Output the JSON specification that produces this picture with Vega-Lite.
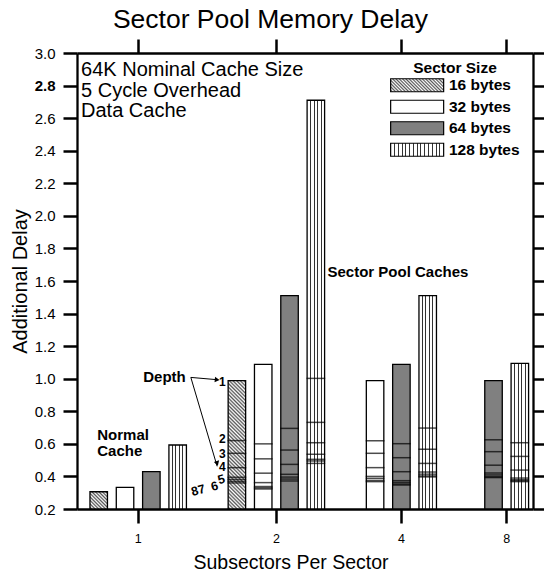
{
  "$schema": "https://vega.github.io/schema/vega-lite/v6.json",
  "width": 456,
  "height": 456,
  "autosize": {"type": "none"},
  "padding": {"left": 77, "top": 53, "right": 11, "bottom": 64},
  "title": {"text": "Sector Pool Memory Delay", "fontSize": 26.5, "fontWeight": "normal", "color": "black", "anchor": "middle", "frame": "group", "dx": -34.5, "dy": 29, "offset": 12, "baseline": "alphabetic"},
  "config": {"font": "Liberation Sans", "view": {"stroke": null}, "axis": {"grid": false, "labelColor": "black", "tickColor": "black", "domainColor": "black", "titleColor": "black"}},
  "datasets": {
    "bars": [
      {"bar": "1|16", "size": 16, "depth": 1, "delay": 0.306},
      {"bar": "1|32", "size": 32, "depth": 1, "delay": 0.333},
      {"bar": "1|64", "size": 64, "depth": 1, "delay": 0.429},
      {"bar": "1|128", "size": 128, "depth": 1, "delay": 0.593},
      {"bar": "2|16", "size": 16, "depth": 1, "delay": 0.988},
      {"bar": "2|16", "size": 16, "depth": 2, "delay": 0.62},
      {"bar": "2|16", "size": 16, "depth": 3, "delay": 0.542},
      {"bar": "2|16", "size": 16, "depth": 4, "delay": 0.454},
      {"bar": "2|16", "size": 16, "depth": 5, "delay": 0.395},
      {"bar": "2|16", "size": 16, "depth": 6, "delay": 0.382},
      {"bar": "2|16", "size": 16, "depth": 7, "delay": 0.37},
      {"bar": "2|16", "size": 16, "depth": 8, "delay": 0.36},
      {"bar": "2|32", "size": 32, "depth": 1, "delay": 1.088},
      {"bar": "2|32", "size": 32, "depth": 2, "delay": 0.6},
      {"bar": "2|32", "size": 32, "depth": 3, "delay": 0.508},
      {"bar": "2|32", "size": 32, "depth": 4, "delay": 0.42},
      {"bar": "2|32", "size": 32, "depth": 5, "delay": 0.362},
      {"bar": "2|32", "size": 32, "depth": 6, "delay": 0.338},
      {"bar": "2|32", "size": 32, "depth": 7, "delay": 0.33},
      {"bar": "2|32", "size": 32, "depth": 8, "delay": 0.323},
      {"bar": "2|64", "size": 64, "depth": 1, "delay": 1.51},
      {"bar": "2|64", "size": 64, "depth": 2, "delay": 0.695},
      {"bar": "2|64", "size": 64, "depth": 3, "delay": 0.562},
      {"bar": "2|64", "size": 64, "depth": 4, "delay": 0.474},
      {"bar": "2|64", "size": 64, "depth": 5, "delay": 0.413},
      {"bar": "2|64", "size": 64, "depth": 6, "delay": 0.396},
      {"bar": "2|64", "size": 64, "depth": 7, "delay": 0.384},
      {"bar": "2|64", "size": 64, "depth": 8, "delay": 0.372},
      {"bar": "2|128", "size": 128, "depth": 1, "delay": 2.71},
      {"bar": "2|128", "size": 128, "depth": 2, "delay": 1.002},
      {"bar": "2|128", "size": 128, "depth": 3, "delay": 0.732},
      {"bar": "2|128", "size": 128, "depth": 4, "delay": 0.607},
      {"bar": "2|128", "size": 128, "depth": 5, "delay": 0.536},
      {"bar": "2|128", "size": 128, "depth": 6, "delay": 0.505},
      {"bar": "2|128", "size": 128, "depth": 7, "delay": 0.495},
      {"bar": "2|128", "size": 128, "depth": 8, "delay": 0.48},
      {"bar": "4|32", "size": 32, "depth": 1, "delay": 0.988},
      {"bar": "4|32", "size": 32, "depth": 2, "delay": 0.619},
      {"bar": "4|32", "size": 32, "depth": 3, "delay": 0.542},
      {"bar": "4|32", "size": 32, "depth": 4, "delay": 0.454},
      {"bar": "4|32", "size": 32, "depth": 5, "delay": 0.4},
      {"bar": "4|32", "size": 32, "depth": 6, "delay": 0.388},
      {"bar": "4|32", "size": 32, "depth": 7, "delay": 0.375},
      {"bar": "4|32", "size": 32, "depth": 8, "delay": 0.368},
      {"bar": "4|64", "size": 64, "depth": 1, "delay": 1.088},
      {"bar": "4|64", "size": 64, "depth": 2, "delay": 0.601},
      {"bar": "4|64", "size": 64, "depth": 3, "delay": 0.515},
      {"bar": "4|64", "size": 64, "depth": 4, "delay": 0.429},
      {"bar": "4|64", "size": 64, "depth": 5, "delay": 0.374},
      {"bar": "4|64", "size": 64, "depth": 6, "delay": 0.363},
      {"bar": "4|64", "size": 64, "depth": 7, "delay": 0.353},
      {"bar": "4|64", "size": 64, "depth": 8, "delay": 0.347},
      {"bar": "4|128", "size": 128, "depth": 1, "delay": 1.51},
      {"bar": "4|128", "size": 128, "depth": 2, "delay": 0.697},
      {"bar": "4|128", "size": 128, "depth": 3, "delay": 0.567},
      {"bar": "4|128", "size": 128, "depth": 4, "delay": 0.48},
      {"bar": "4|128", "size": 128, "depth": 5, "delay": 0.427},
      {"bar": "4|128", "size": 128, "depth": 6, "delay": 0.414},
      {"bar": "4|128", "size": 128, "depth": 7, "delay": 0.403},
      {"bar": "4|128", "size": 128, "depth": 8, "delay": 0.397},
      {"bar": "8|64", "size": 64, "depth": 1, "delay": 0.988},
      {"bar": "8|64", "size": 64, "depth": 2, "delay": 0.625},
      {"bar": "8|64", "size": 64, "depth": 3, "delay": 0.552},
      {"bar": "8|64", "size": 64, "depth": 4, "delay": 0.469},
      {"bar": "8|64", "size": 64, "depth": 5, "delay": 0.421},
      {"bar": "8|64", "size": 64, "depth": 6, "delay": 0.409},
      {"bar": "8|64", "size": 64, "depth": 7, "delay": 0.398},
      {"bar": "8|64", "size": 64, "depth": 8, "delay": 0.393},
      {"bar": "8|128", "size": 128, "depth": 1, "delay": 1.094},
      {"bar": "8|128", "size": 128, "depth": 2, "delay": 0.607},
      {"bar": "8|128", "size": 128, "depth": 3, "delay": 0.523},
      {"bar": "8|128", "size": 128, "depth": 4, "delay": 0.439},
      {"bar": "8|128", "size": 128, "depth": 5, "delay": 0.39},
      {"bar": "8|128", "size": 128, "depth": 6, "delay": 0.38},
      {"bar": "8|128", "size": 128, "depth": 7, "delay": 0.374},
      {"bar": "8|128", "size": 128, "depth": 8, "delay": 0.368}
    ]
  },
  "layer": [
    {
      "data": {"name": "bars"},
      "transform": [{"filter": "datum.depth == 1"}],
      "mark": {"type": "bar", "width": 17.5, "stroke": "black", "strokeWidth": 1.3},
      "encoding": {
        "x": {
          "field": "bar", "type": "nominal",
          "scale": {"type": "band", "paddingInner": 0, "paddingOuter": 0.65, "align": 0.615,
            "domain": ["p0","p1","1|16","p3","p4","p5","1|32","p7","g1","p9","1|64","p11","p12","p13","1|128","p15","p16","p17","p18","p19","p20","p21","p22","2|16","p24","p25","p26","2|32","p28","g2","p30","2|64","p32","p33","p34","2|128","p36","p37","p38","p39","p40","p41","p42","p43","4|32","p45","p46","p47","4|64","p49","p50","p51","4|128","p53","p54","p55","p56","p57","p58","p59","p60","p61","8|64","p63","g8","p65","8|128","p67"]},
          "axis": {"orient": "bottom", "values": ["g1", "g2", "4|64", "g8"], "bandPosition": 0.5,
            "labelExpr": "datum.value == 'g1' ? '1' : datum.value == 'g2' ? '2' : datum.value == '4|64' ? '4' : '8'",
            "labelAngle": 0, "labelFontSize": 12.5, "labelPadding": 9, "tickSize": 14, "tickWidth": 2.5, "domainWidth": 2.3,
            "title": "Subsectors Per Sector", "titleFontSize": 19.5, "titleFontWeight": "normal", "titleX": 213.5, "titleY": 59.5, "titleBaseline": "alphabetic", "titleAlign": "center"}
        },
        "y": {
          "field": "delay", "type": "quantitative",
          "scale": {"domain": [0.2, 3.0], "nice": false, "zero": false},
          "axis": {"orient": "left", "values": [0.2,0.4,0.6,0.8,1.0,1.2,1.4,1.6,1.8,2.0,2.2,2.4,2.6,2.8,3.0], "format": ".1f",
            "labelFontSize": 15, "labelPadding": 8, "labelFontWeight": {"expr": "datum.value == 2.8 ? 'bold' : 'normal'"},
            "tickSize": 14, "tickWidth": 2.5, "domainWidth": 2.3,
            "title": "Additional Delay", "titleFontSize": 20, "titleFontWeight": "normal", "titlePadding": 4}
        },
        "y2": {"datum": 0.2},
        "fill": {
          "field": "size", "type": "nominal",
          "scale": {"domain": [16, 32, 64, 128], "range": [
            {"expr": "{gradient:'linear',x1:0,y1:1,x2:1.175,y2:0.712,stops:[{offset:0,color:'#fff'},{offset:0.025,color:'#555'},{offset:0.05,color:'#fff'},{offset:0.075,color:'#555'},{offset:0.1,color:'#fff'},{offset:0.125,color:'#555'},{offset:0.15,color:'#fff'},{offset:0.175,color:'#555'},{offset:0.2,color:'#fff'},{offset:0.225,color:'#555'},{offset:0.25,color:'#fff'},{offset:0.275,color:'#555'},{offset:0.3,color:'#fff'},{offset:0.325,color:'#555'},{offset:0.35,color:'#fff'},{offset:0.375,color:'#555'},{offset:0.4,color:'#fff'},{offset:0.425,color:'#555'},{offset:0.45,color:'#fff'},{offset:0.475,color:'#555'},{offset:0.5,color:'#fff'},{offset:0.525,color:'#555'},{offset:0.55,color:'#fff'},{offset:0.575,color:'#555'},{offset:0.6,color:'#fff'},{offset:0.625,color:'#555'},{offset:0.65,color:'#fff'},{offset:0.675,color:'#555'},{offset:0.7,color:'#fff'},{offset:0.725,color:'#555'},{offset:0.75,color:'#fff'},{offset:0.775,color:'#555'},{offset:0.8,color:'#fff'},{offset:0.825,color:'#555'},{offset:0.85,color:'#fff'},{offset:0.875,color:'#555'},{offset:0.9,color:'#fff'},{offset:0.925,color:'#555'},{offset:0.95,color:'#fff'},{offset:0.975,color:'#555'},{offset:1,color:'#fff'}]}"},
            "#ffffff",
            "#808080",
            {"expr": "{gradient:'linear',x1:0,y1:0,x2:1,y2:0,stops:[{offset:0,color:'#fff'},{offset:0.0619,color:'#fff'},{offset:0.0619,color:'#333'},{offset:0.0809,color:'#333'},{offset:0.0809,color:'#fff'},{offset:0.1334,color:'#fff'},{offset:0.1334,color:'#333'},{offset:0.1524,color:'#333'},{offset:0.1524,color:'#fff'},{offset:0.2048,color:'#fff'},{offset:0.2048,color:'#333'},{offset:0.2238,color:'#333'},{offset:0.2238,color:'#fff'},{offset:0.2762,color:'#fff'},{offset:0.2762,color:'#333'},{offset:0.2952,color:'#333'},{offset:0.2952,color:'#fff'},{offset:0.3476,color:'#fff'},{offset:0.3476,color:'#333'},{offset:0.3666,color:'#333'},{offset:0.3666,color:'#fff'},{offset:0.4191,color:'#fff'},{offset:0.4191,color:'#333'},{offset:0.4381,color:'#333'},{offset:0.4381,color:'#fff'},{offset:0.4905,color:'#fff'},{offset:0.4905,color:'#333'},{offset:0.5095,color:'#333'},{offset:0.5095,color:'#fff'},{offset:0.5619,color:'#fff'},{offset:0.5619,color:'#333'},{offset:0.5809,color:'#333'},{offset:0.5809,color:'#fff'},{offset:0.6334,color:'#fff'},{offset:0.6334,color:'#333'},{offset:0.6524,color:'#333'},{offset:0.6524,color:'#fff'},{offset:0.7048,color:'#fff'},{offset:0.7048,color:'#333'},{offset:0.7238,color:'#333'},{offset:0.7238,color:'#fff'},{offset:0.7762,color:'#fff'},{offset:0.7762,color:'#333'},{offset:0.7952,color:'#333'},{offset:0.7952,color:'#fff'},{offset:0.8476,color:'#fff'},{offset:0.8476,color:'#333'},{offset:0.8666,color:'#333'},{offset:0.8666,color:'#fff'},{offset:0.9191,color:'#fff'},{offset:0.9191,color:'#333'},{offset:0.9381,color:'#333'},{offset:0.9381,color:'#fff'},{offset:1,color:'#fff'}]}"}
          ]},
          "condition": [
            {"test": "datum.bar == '2|16'", "value": {"gradient": "linear", "x1": 0, "y1": 1, "x2": 0.1522, "y2": -0.1157, "stops": [
              {"offset": 0, "color": "#fff"},{"offset": 0.0125, "color": "#555"},{"offset": 0.025, "color": "#fff"},{"offset": 0.0375, "color": "#555"},
              {"offset": 0.05, "color": "#fff"},{"offset": 0.0625, "color": "#555"},{"offset": 0.075, "color": "#fff"},{"offset": 0.0875, "color": "#555"},
              {"offset": 0.1, "color": "#fff"},{"offset": 0.1125, "color": "#555"},{"offset": 0.125, "color": "#fff"},{"offset": 0.1375, "color": "#555"},
              {"offset": 0.15, "color": "#fff"},{"offset": 0.1625, "color": "#555"},{"offset": 0.175, "color": "#fff"},{"offset": 0.1875, "color": "#555"},
              {"offset": 0.2, "color": "#fff"},{"offset": 0.2125, "color": "#555"},{"offset": 0.225, "color": "#fff"},{"offset": 0.2375, "color": "#555"},
              {"offset": 0.25, "color": "#fff"},{"offset": 0.2625, "color": "#555"},{"offset": 0.275, "color": "#fff"},{"offset": 0.2875, "color": "#555"},
              {"offset": 0.3, "color": "#fff"},{"offset": 0.3125, "color": "#555"},{"offset": 0.325, "color": "#fff"},{"offset": 0.3375, "color": "#555"},
              {"offset": 0.35, "color": "#fff"},{"offset": 0.3625, "color": "#555"},{"offset": 0.375, "color": "#fff"},{"offset": 0.3875, "color": "#555"},
              {"offset": 0.4, "color": "#fff"},{"offset": 0.4125, "color": "#555"},{"offset": 0.425, "color": "#fff"},{"offset": 0.4375, "color": "#555"},
              {"offset": 0.45, "color": "#fff"},{"offset": 0.4625, "color": "#555"},{"offset": 0.475, "color": "#fff"},{"offset": 0.4875, "color": "#555"},
              {"offset": 0.5, "color": "#fff"},{"offset": 0.5125, "color": "#555"},{"offset": 0.525, "color": "#fff"},{"offset": 0.5375, "color": "#555"},
              {"offset": 0.55, "color": "#fff"},{"offset": 0.5625, "color": "#555"},{"offset": 0.575, "color": "#fff"},{"offset": 0.5875, "color": "#555"},
              {"offset": 0.6, "color": "#fff"},{"offset": 0.6125, "color": "#555"},{"offset": 0.625, "color": "#fff"},{"offset": 0.6375, "color": "#555"},
              {"offset": 0.65, "color": "#fff"},{"offset": 0.6625, "color": "#555"},{"offset": 0.675, "color": "#fff"},{"offset": 0.6875, "color": "#555"},
              {"offset": 0.7, "color": "#fff"},{"offset": 0.7125, "color": "#555"},{"offset": 0.725, "color": "#fff"},{"offset": 0.7375, "color": "#555"},
              {"offset": 0.75, "color": "#fff"},{"offset": 0.7625, "color": "#555"},{"offset": 0.775, "color": "#fff"},{"offset": 0.7875, "color": "#555"},
              {"offset": 0.8, "color": "#fff"},{"offset": 0.8125, "color": "#555"},{"offset": 0.825, "color": "#fff"},{"offset": 0.8375, "color": "#555"},
              {"offset": 0.85, "color": "#fff"},{"offset": 0.8625, "color": "#555"},{"offset": 0.875, "color": "#fff"},{"offset": 0.8875, "color": "#555"},
              {"offset": 0.9, "color": "#fff"},{"offset": 0.9125, "color": "#555"},{"offset": 0.925, "color": "#fff"},{"offset": 0.9375, "color": "#555"},
              {"offset": 0.95, "color": "#fff"},{"offset": 0.9625, "color": "#555"},{"offset": 0.975, "color": "#fff"},{"offset": 0.9875, "color": "#555"},
              {"offset": 1, "color": "#fff"}]}},
            {"test": "datum.bar == '1|16'", "value": {"gradient": "linear", "x1": 0, "y1": 1, "x2": 1.007, "y2": 0.007, "stops": [
              {"offset": 0, "color": "#fff"},{"offset": 0.05, "color": "#555"},{"offset": 0.1, "color": "#fff"},{"offset": 0.15, "color": "#555"},
              {"offset": 0.2, "color": "#fff"},{"offset": 0.25, "color": "#555"},{"offset": 0.3, "color": "#fff"},{"offset": 0.35, "color": "#555"},
              {"offset": 0.4, "color": "#fff"},{"offset": 0.45, "color": "#555"},{"offset": 0.5, "color": "#fff"},{"offset": 0.55, "color": "#555"},
              {"offset": 0.6, "color": "#fff"},{"offset": 0.65, "color": "#555"},{"offset": 0.7, "color": "#fff"},{"offset": 0.75, "color": "#555"},
              {"offset": 0.8, "color": "#fff"},{"offset": 0.85, "color": "#555"},{"offset": 0.9, "color": "#fff"},{"offset": 0.95, "color": "#555"},
              {"offset": 1, "color": "#fff"}]}},
            {"test": "datum.size == 128", "value": {"gradient": "linear", "x1": 0, "y1": 0, "x2": 1, "y2": 0, "stops": [
              {"offset": 0, "color": "#fff"},{"offset": 0.1714, "color": "#fff"},{"offset": 0.1714, "color": "#333"},{"offset": 0.2286, "color": "#333"},{"offset": 0.2286, "color": "#fff"},
              {"offset": 0.3714, "color": "#fff"},{"offset": 0.3714, "color": "#333"},{"offset": 0.4286, "color": "#333"},{"offset": 0.4286, "color": "#fff"},
              {"offset": 0.5714, "color": "#fff"},{"offset": 0.5714, "color": "#333"},{"offset": 0.6286, "color": "#333"},{"offset": 0.6286, "color": "#fff"},
              {"offset": 0.7714, "color": "#fff"},{"offset": 0.7714, "color": "#333"},{"offset": 0.8286, "color": "#333"},{"offset": 0.8286, "color": "#fff"},
              {"offset": 1, "color": "#fff"}]}}
          ],
          "legend": {
            "orient": "none", "legendX": 313, "legendY": 8, "padding": 0,
            "title": "Sector Size", "titleFontSize": 15.5, "titleFontWeight": "bold", "titleColor": "black", "titleAnchor": "middle", "titlePadding": 1,
            "labelFontSize": 15.5, "labelFontWeight": "bold", "labelColor": "black", "labelOffset": 24, "labelExpr": "datum.label + ' bytes'",
            "symbolType": "M-4.077,-1L4.077,-1L4.077,1L-4.077,1Z", "symbolSize": 169, "symbolOffset": 19.4,
            "symbolStrokeColor": "black", "symbolStrokeWidth": 1.2, "rowPadding": 2.5
          }
        }
      }
    },
    {
      "data": {"name": "bars"},
      "transform": [{"filter": "datum.depth > 1"}],
      "mark": {"type": "tick", "orient": "horizontal", "size": 18.7, "thickness": 1.5, "color": "black"},
      "encoding": {
        "x": {"field": "bar", "type": "nominal",
          "axis": {"orient": "top", "values": ["g1", "g2", "4|64", "g8"], "bandPosition": 0.5, "labels": false, "tickSize": 14, "tickWidth": 2.5, "domainWidth": 2.3, "title": null}},
        "y": {"field": "delay", "type": "quantitative",
          "axis": {"orient": "right", "values": [0.2,0.4,0.6,0.8,1.0,1.2,1.4,1.6,1.8,2.0,2.2,2.4,2.6,2.8,3.0], "labels": false, "tickSize": 12, "tickWidth": 2.5, "domainWidth": 2.3, "title": null}}
      }
    },
    {
      "data": {"values": [
        {"t": "64K Nominal Cache Size", "x": "p0", "y": 2.857},
        {"t": "5 Cycle Overhead", "x": "p0", "y": 2.732},
        {"t": "Data Cache", "x": "p0", "y": 2.607}
      ]},
      "mark": {"type": "text", "align": "left", "baseline": "alphabetic", "fontSize": 20, "dx": -4.5, "color": "black"},
      "encoding": {
        "x": {"field": "x", "type": "nominal", "axis": null},
        "y": {"field": "y", "type": "quantitative", "axis": null},
        "text": {"field": "t"}
      }
    },
    {
      "data": {"values": [
        {"t": "Normal", "x": "1|16", "y": 0.621},
        {"t": "Cache", "x": "1|16", "y": 0.523},
        {"t": "Sector Pool Caches", "x": "p37", "y": 1.626},
        {"t": "Depth", "x": "p9", "y": 0.979}
      ]},
      "mark": {"type": "text", "align": "left", "baseline": "alphabetic", "fontSize": 15, "fontWeight": "bold", "dx": -1.5, "color": "black"},
      "encoding": {
        "x": {"field": "x", "type": "nominal", "axis": null},
        "y": {"field": "y", "type": "quantitative", "axis": null},
        "text": {"field": "t"}
      }
    },
    {
      "data": {"values": [
        {"t": "1", "x": "p21", "y": 0.957},
        {"t": "2", "x": "p21", "y": 0.605},
        {"t": "3", "x": "p21", "y": 0.513},
        {"t": "4", "x": "p21", "y": 0.431}
      ]},
      "mark": {"type": "text", "align": "center", "baseline": "alphabetic", "fontSize": 12, "fontWeight": "bold", "dx": -1.5, "color": "black"},
      "encoding": {
        "x": {"field": "x", "type": "nominal", "axis": null},
        "y": {"field": "y", "type": "quantitative", "axis": null},
        "text": {"field": "t"}
      }
    },
    {
      "data": {"values": [
        {"t": "5", "x": "p21", "y": 0.36},
        {"t": "6", "x": "p20", "y": 0.319},
        {"t": "7", "x": "p18", "y": 0.298},
        {"t": "8", "x": "p17", "y": 0.288}
      ]},
      "mark": {"type": "text", "align": "center", "baseline": "alphabetic", "fontSize": 12.5, "fontWeight": "bold", "angle": 345, "dx": -1.5, "color": "black"},
      "encoding": {
        "x": {"field": "x", "type": "nominal", "axis": null},
        "y": {"field": "y", "type": "quantitative", "axis": null},
        "text": {"field": "t"}
      }
    },
    {
      "data": {"values": [
        {"x": "p16", "x2": "p20", "y": 1.008, "y2": 0.994},
        {"x": "p16", "x2": "p20", "y": 1.008, "y2": 0.462}
      ]},
      "mark": {"type": "rule", "color": "black", "strokeWidth": 1},
      "encoding": {
        "x": {"field": "x", "type": "nominal", "axis": null},
        "x2": {"field": "x2"},
        "y": {"field": "y", "type": "quantitative", "axis": null},
        "y2": {"field": "y2"}
      }
    },
    {
      "data": {"values": [{"x": "p20", "y": 0.994}]},
      "mark": {"type": "point", "shape": "triangle-right", "size": 30, "filled": true, "color": "black", "opacity": 1, "angle": 5.6},
      "encoding": {
        "x": {"field": "x", "type": "nominal", "axis": null},
        "y": {"field": "y", "type": "quantitative", "axis": null}
      }
    },
    {
      "data": {"values": [{"x": "p20", "y": 0.48}]},
      "mark": {"type": "point", "shape": "triangle-down", "size": 30, "filled": true, "color": "black", "opacity": 1, "angle": 343.6},
      "encoding": {
        "x": {"field": "x", "type": "nominal", "axis": null},
        "y": {"field": "y", "type": "quantitative", "axis": null}
      }
    }
  ],
  "resolve": {"axis": {"x": "independent", "y": "independent"}}
}
